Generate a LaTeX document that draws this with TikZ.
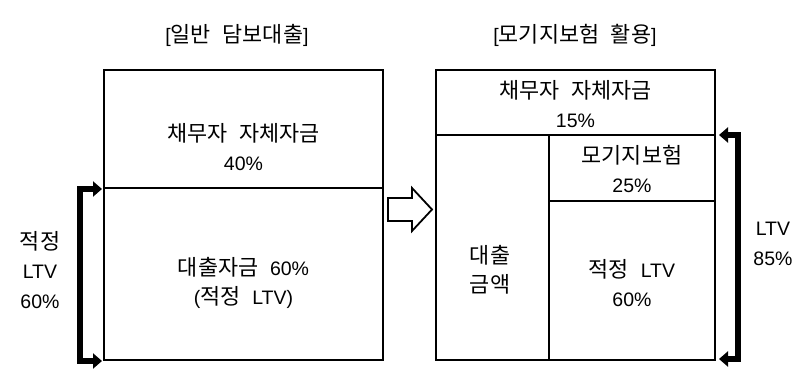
\documentclass[tikz,border=0pt]{standalone}
\usepackage{fontspec}
\setmainfont{Liberation Sans}
\newfontfamily\kr[Scale=1.12]{Noto Sans CJK KR}
\newcommand{\ws}{\hspace{0.6em}}
\usetikzlibrary{arrows.meta}
\begin{document}
\begin{tikzpicture}[x=1pt,y=-1pt,
  cell/.style={draw=black,line width=1.5pt},
  txt/.style={font=\fontsize{19.5}{29.5}\selectfont,align=center,inner sep=0pt},
  bracket/.style={line width=5.5pt,{Triangle[length=9pt,width=15pt]}-{Triangle[length=9pt,width=15pt]}},
  hollow/.style={draw=black,line width=1.8pt,fill=white,line join=miter}]
\useasboundingbox (0,0) rectangle (806,370);
% left box
\draw[cell] (104,70) rectangle (383,360);
\draw[cell] (104,188) -- (383,188);
% right box
\draw[cell] (436,70) rectangle (715,360);
\draw[cell] (436,135) -- (715,135);
\draw[cell] (549,135) -- (549,360);
\draw[cell] (549,201) -- (715,201);
% titles
\node[txt] (t1) at (237,35) {[{\kr 일반}\ws{\kr 담보대출}]};
\node[txt] (t2) at (575,35) {[{\kr 모기지보험}\ws{\kr 활용}]};
% left texts
\node[txt] (l1) at (243.5,147) {{\kr 채무자}\ws{\kr 자체자금}\\40\%};
\node[txt] (l2) at (243.5,283) {{\kr 대출자금}\ws 60\%\\({\kr 적정}\ws LTV)};
% right texts
\node[txt] (r1) at (575.5,104) {{\kr 채무자}\ws{\kr 자체자금}\\15\%};
\node[txt] (r2) at (632,169) {{\kr 모기지보험}\\25\%};
\node[txt] (r3) at (490,270) {{\kr 대출}\\{\kr 금액}};
\node[txt] (r4) at (632,283) {{\kr 적정}\ws LTV\\60\%};
% side labels
\node[txt] (s1) at (40,270) {{\kr 적정}\\LTV\\60\%};
\node[txt] (s2) at (773,244) {LTV\\85\%};
% brackets
\coordinate (la) at (102,189);
\coordinate (lb) at (102,361);
\coordinate (ra) at (719,135);
\coordinate (rb) at (719,359);
\draw[bracket] (la) -- (80,189) -- (80,361) -- (lb);
\draw[bracket] (ra) -- (738,135) -- (738,359) -- (rb);
% hollow arrow
\draw[hollow] (388,198) -- (412,198) -- (412,188) -- (432,209.5) -- (412,231) -- (412,221) -- (388,221) -- cycle;
\end{tikzpicture}
\end{document}
